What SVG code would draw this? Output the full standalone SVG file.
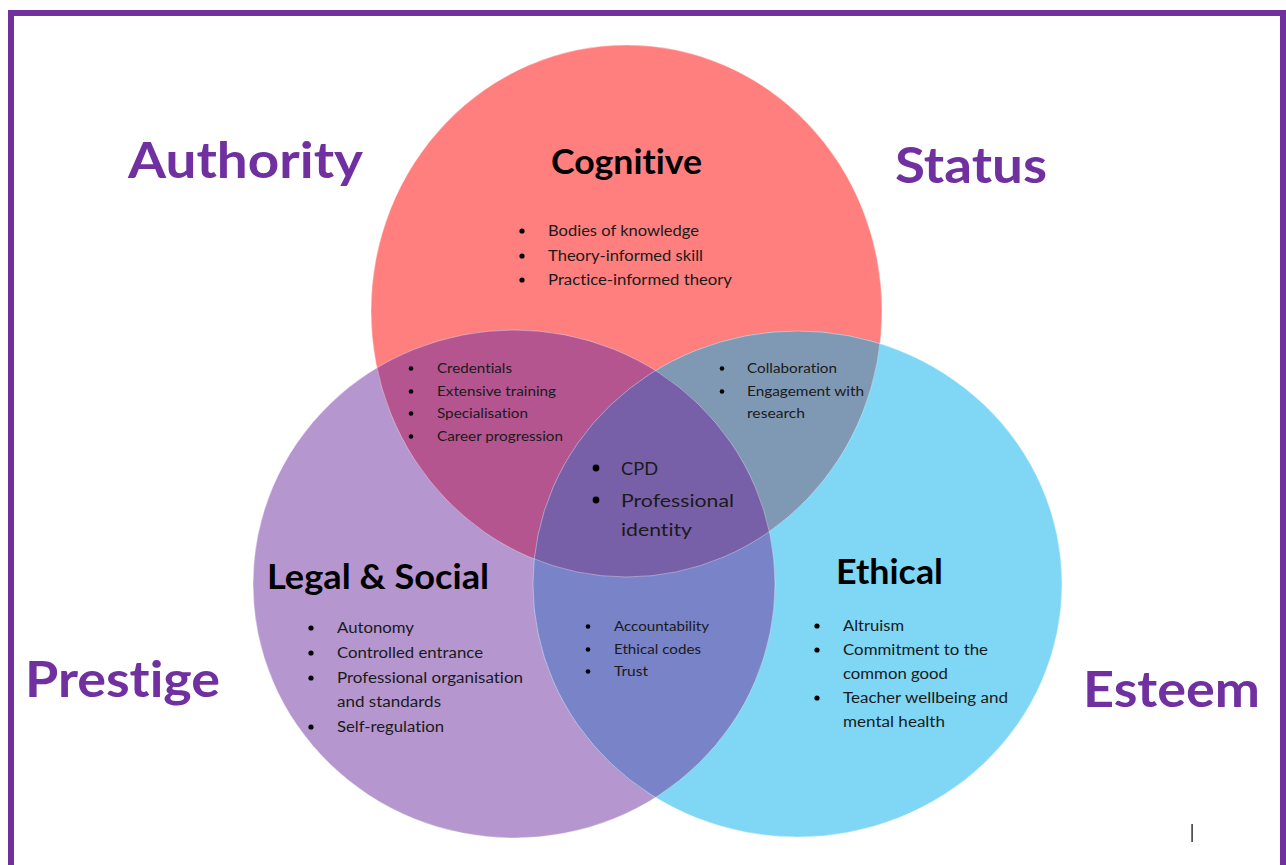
<svg xmlns="http://www.w3.org/2000/svg" width="1286" height="865" viewBox="0 0 1286 865">
<style>
text{font-variant-ligatures:none;font-feature-settings:"liga" 0,"dlig" 0}
.outer{font-family:Lato,"Open Sans","Liberation Sans",sans-serif;font-weight:700;font-size:50px;fill:#7030A0}
.head{font-family:Lato,"Open Sans","Liberation Sans",sans-serif;font-weight:700;font-size:34px;fill:#000}
.b16{font-family:Lato,"Open Sans","Liberation Sans",sans-serif;font-size:14.5px;fill:#1a1a1a}
.b14{font-family:Lato,"Open Sans","Liberation Sans",sans-serif;font-size:12.8px;fill:#1a1a1a}
.b20{font-family:Lato,"Open Sans","Liberation Sans",sans-serif;font-size:18px;fill:#1a1a1a}
.dot{fill:#000}
.edge{stroke:#ffffff;stroke-opacity:0.35;stroke-width:1;fill:none}
</style>
<defs>
<ellipse id="eR" cx="626.5" cy="311" rx="255.5" ry="266"/>
<ellipse id="eP" cx="514" cy="584" rx="261" ry="254"/>
<ellipse id="eB" cx="797.5" cy="584" rx="264.5" ry="253"/>
<clipPath id="cR"><use href="#eR"/></clipPath>
<clipPath id="cP"><use href="#eP"/></clipPath>
</defs>
<rect x="0" y="0" width="1286" height="865" fill="#ffffff"/>
<rect x="11" y="13" width="1272" height="900" fill="#ffffff" stroke="#7030A0" stroke-width="6"/>

<g id="shapes">
<use href="#eR" fill="#FF7F7F"/>
<use href="#eP" fill="#B596CF"/>
<use href="#eB" fill="#7FD7F5"/>
<g clip-path="url(#cR)"><use href="#eP" fill="#B45590"/><use href="#eB" fill="#7F99B5"/></g>
<g clip-path="url(#cP)"><use href="#eB" fill="#7883C8"/></g>
<g clip-path="url(#cR)"><g clip-path="url(#cP)"><use href="#eB" fill="#7860A8"/></g></g>
<use href="#eR" class="edge"/>
<use href="#eP" class="edge"/>
<use href="#eB" class="edge"/>
</g>

<g id="outer-labels">
<text class="outer" x="128" y="178" textLength="235" lengthAdjust="spacingAndGlyphs">Authority</text>
<text class="outer" x="895" y="183" textLength="152" lengthAdjust="spacingAndGlyphs">Status</text>
<text class="outer" x="25" y="697" textLength="195" lengthAdjust="spacingAndGlyphs">Prestige</text>
<text class="outer" x="1083" y="707" textLength="177" lengthAdjust="spacingAndGlyphs">Esteem</text>
</g>

<g id="node-cognitive">
<text class="head" x="551" y="174" textLength="151" lengthAdjust="spacingAndGlyphs">Cognitive</text>
<circle class="dot" cx="522" cy="231" r="2.6"/>
<circle class="dot" cx="522" cy="256" r="2.6"/>
<circle class="dot" cx="522" cy="280" r="2.6"/>
<text class="b16" x="548" y="236" textLength="151" lengthAdjust="spacingAndGlyphs">Bodies of knowledge</text>
<text class="b16" x="548" y="261" textLength="155" lengthAdjust="spacingAndGlyphs">Theory-informed skill</text>
<text class="b16" x="548" y="285" textLength="184" lengthAdjust="spacingAndGlyphs">Practice-informed theory</text>
</g>

<g id="node-cognitive-legal">
<circle class="dot" cx="411" cy="368.5" r="2.3"/>
<circle class="dot" cx="411" cy="391.5" r="2.3"/>
<circle class="dot" cx="411" cy="413.5" r="2.3"/>
<circle class="dot" cx="411" cy="436.5" r="2.3"/>
<text class="b14" x="437" y="373" textLength="75" lengthAdjust="spacingAndGlyphs">Credentials</text>
<text class="b14" x="437" y="396" textLength="119" lengthAdjust="spacingAndGlyphs">Extensive training</text>
<text class="b14" x="437" y="418" textLength="91" lengthAdjust="spacingAndGlyphs">Specialisation</text>
<text class="b14" x="437" y="441" textLength="126" lengthAdjust="spacingAndGlyphs">Career progression</text>
</g>

<g id="node-cognitive-ethical">
<circle class="dot" cx="722" cy="368.5" r="2.3"/>
<circle class="dot" cx="722" cy="391.5" r="2.3"/>
<text class="b14" x="747" y="373" textLength="90" lengthAdjust="spacingAndGlyphs">Collaboration</text>
<text class="b14" x="747" y="396" textLength="117" lengthAdjust="spacingAndGlyphs">Engagement with</text>
<text class="b14" x="747" y="418" textLength="58" lengthAdjust="spacingAndGlyphs">research</text>
</g>

<g id="node-centre">
<circle class="dot" cx="596" cy="468" r="3.4"/>
<circle class="dot" cx="596" cy="500" r="3.4"/>
<text class="b20" x="621" y="475" textLength="37" lengthAdjust="spacingAndGlyphs">CPD</text>
<text class="b20" x="621" y="507" textLength="113" lengthAdjust="spacingAndGlyphs">Professional</text>
<text class="b20" x="621" y="536" textLength="71" lengthAdjust="spacingAndGlyphs">identity</text>
</g>

<g id="node-legal">
<text class="head" x="267" y="589" textLength="222" lengthAdjust="spacingAndGlyphs">Legal &amp; Social</text>
<circle class="dot" cx="311" cy="628" r="2.6"/>
<circle class="dot" cx="311" cy="653" r="2.6"/>
<circle class="dot" cx="311" cy="678" r="2.6"/>
<circle class="dot" cx="311" cy="727" r="2.6"/>
<text class="b16" x="337" y="633" textLength="77" lengthAdjust="spacingAndGlyphs">Autonomy</text>
<text class="b16" x="337" y="658" textLength="146" lengthAdjust="spacingAndGlyphs">Controlled entrance</text>
<text class="b16" x="337" y="683" textLength="186" lengthAdjust="spacingAndGlyphs">Professional organisation</text>
<text class="b16" x="337" y="707" textLength="104" lengthAdjust="spacingAndGlyphs">and standards</text>
<text class="b16" x="337" y="732" textLength="107" lengthAdjust="spacingAndGlyphs">Self-regulation</text>
</g>

<g id="node-legal-ethical">
<circle class="dot" cx="588" cy="626.5" r="2.3"/>
<circle class="dot" cx="588" cy="649.5" r="2.3"/>
<circle class="dot" cx="588" cy="671.5" r="2.3"/>
<text class="b14" x="614" y="631" textLength="95" lengthAdjust="spacingAndGlyphs">Accountability</text>
<text class="b14" x="614" y="654" textLength="87" lengthAdjust="spacingAndGlyphs">Ethical codes</text>
<text class="b14" x="614" y="676" textLength="34" lengthAdjust="spacingAndGlyphs">Trust</text>
</g>

<g id="node-ethical">
<text class="head" x="836" y="584" textLength="107" lengthAdjust="spacingAndGlyphs">Ethical</text>
<circle class="dot" cx="817" cy="626" r="2.6"/>
<circle class="dot" cx="817" cy="650" r="2.6"/>
<circle class="dot" cx="817" cy="698" r="2.6"/>
<text class="b16" x="843" y="631" textLength="61" lengthAdjust="spacingAndGlyphs">Altruism</text>
<text class="b16" x="843" y="655" textLength="145" lengthAdjust="spacingAndGlyphs">Commitment to the</text>
<text class="b16" x="843" y="679" textLength="105" lengthAdjust="spacingAndGlyphs">common good</text>
<text class="b16" x="843" y="703" textLength="165" lengthAdjust="spacingAndGlyphs">Teacher wellbeing and</text>
<text class="b16" x="843" y="727" textLength="102" lengthAdjust="spacingAndGlyphs">mental health</text>
</g>

<g id="connectors"></g>
<rect x="1191.3" y="824" width="1.6" height="18" fill="#404040"/>
</svg>
